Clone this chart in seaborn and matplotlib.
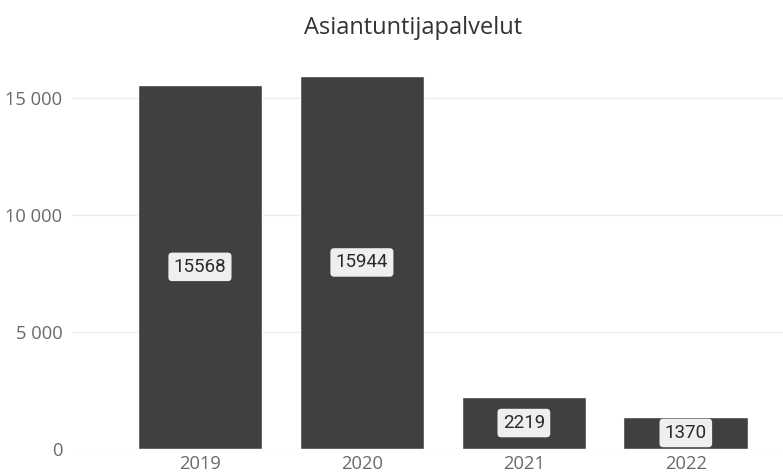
import numpy as np
import pandas as pd
import matplotlib
matplotlib.use("Agg")
import matplotlib.pyplot as plt
import seaborn as sns
from matplotlib.ticker import FuncFormatter

# Data
years = ["2019", "2020", "2021", "2022"]
values = [15568, 15944, 2219, 1370]
title = "Asiantuntijapalvelut"

df = pd.DataFrame({"Vuosi": years, "Arvo": values})

sns.set_theme(style="white")
plt.rcParams["font.family"] = ["Open Sans", "DejaVu Sans"]

fig = plt.figure(figsize=(7.83, 4.75), dpi=100)
ax = fig.add_axes([72 / 783, 26 / 475, 711 / 783, 384 / 475])

sns.barplot(data=df, x="Vuosi", y="Arvo", color="#404040", saturation=1,
            width=0.77, ax=ax)

ax.set_xlim(-0.79, 3.6)
ax.set_ylim(0, 16410)
ax.set_yticks([0, 5000, 10000, 15000])
ax.yaxis.set_major_formatter(FuncFormatter(lambda v, p: f"{int(v):,}".replace(",", " ")))
ax.grid(axis="y", color="#ececec", linewidth=1)
ax.set_axisbelow(True)
for s in ax.spines.values():
    s.set_visible(False)
ax.set_xlabel("")
ax.set_ylabel("")
ax.tick_params(axis="both", length=0, labelsize=13.2, labelcolor="#6a6a6a")
ax.tick_params(axis="y", pad=7)
ax.tick_params(axis="x", pad=4)

# value labels in the middle of each bar
for i, v in enumerate(values):
    ax.text(i, v / 2, str(v), ha="center", va="center", fontsize=13.5,
            color="#2a2a2a", family=["Roboto", "DejaVu Sans"],
            bbox=dict(boxstyle="round,pad=0.28,rounding_size=0.2",
                      fc="#efefef", ec="none"))

fig.text(413 / 783, 1 - 28 / 475, title, ha="center", va="center",
         fontsize=17, color="#333333")

fig.savefig("out.png", dpi=100)
